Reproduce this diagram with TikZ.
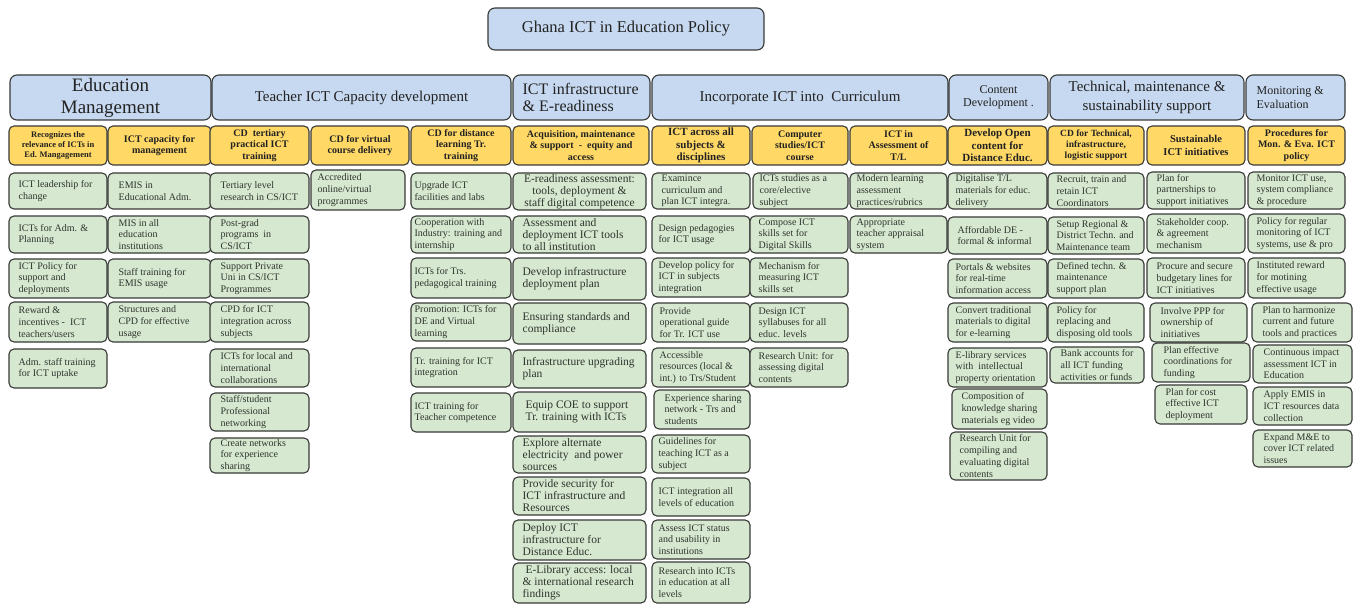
\documentclass[tikz,border=0pt]{standalone}
\usepackage{fontspec}
\setmainfont{Liberation Serif}
\definecolor{hdrblue}{RGB}{198,217,240}
\definecolor{hdryellow}{RGB}{255,216,102}
\definecolor{itemgreen}{RGB}{214,232,207}
\definecolor{edge}{RGB}{56,58,56}
\definecolor{ink}{RGB}{34,34,34}
\definecolor{itemink}{RGB}{46,52,46}

\tikzset{
  base/.style={draw=edge, line width=1.1pt, rounded corners=5pt, inner sep=0pt},
  bbox/.style={base, fill=hdrblue, rounded corners=7pt},
  bbox text/.style={text=ink, inner sep=0pt, font=\fontsize{15}{19}\selectfont},
  ybox/.style={base, fill=hdryellow},
  ybox text/.style={text=ink, inner sep=0pt, font=\bfseries\fontsize{10}{11.5}\selectfont},
  gbox/.style={base, fill=itemgreen},
  gbox text/.style={text=itemink, inner sep=0pt, xshift=8pt, font=\fontsize{10}{11.7}\selectfont},
  ibox/.style={gbox},
  ibox text/.style={gbox text, xshift=2pt, font=\fontsize{11.5}{12}\selectfont},
}

% box with left-aligned text: [text options]{style}{name}{x1}{y1}{x2}{y2}{text}
\newcommand\lbx[8][]{%
  \pgfmathsetmacro\bw{#6-#4}\pgfmathsetmacro\bh{#7-#5}%
  \node[#2, minimum width=\bw pt, minimum height=\bh pt] (#3) at ({(#4+#6)/2},{(#5+#7)/2}) {};%
  \node[anchor=west, align=left, #2 text, #1] (#3-t) at (#3.west) {#8};}
% box with centred text
\newcommand\cbx[8][]{%
  \pgfmathsetmacro\bw{#6-#4}\pgfmathsetmacro\bh{#7-#5}%
  \node[#2, minimum width=\bw pt, minimum height=\bh pt] (#3) at ({(#4+#6)/2},{(#5+#7)/2}) {};%
  \node[anchor=center, align=center, #2 text, #1] (#3-t) at (#3.center) {#8};}

\begin{document}
\begin{tikzpicture}[x=1pt, y=-1pt]
\useasboundingbox[fill=white] (0,0) rectangle (1362,604);

% title
\cbx[font=\fontsize{16.5}{19}\selectfont]{bbox}{title}{488}{8}{764}{50}{Ghana ICT in Education Policy}

% main areas
\cbx[font=\fontsize{19}{22}\selectfont]{bbox}{h1}{10}{75}{211}{120}{Education\\Management}
\cbx{bbox}{h2}{212}{75}{511}{120}{Teacher ICT Capacity development}
\lbx[xshift=10pt, font=\fontsize{16}{16.5}\selectfont]{bbox}{h3}{513}{75}{650}{120}{ICT infrastructure\\\& E-readiness}
\cbx{bbox}{h4}{652}{75}{948}{120}{Incorporate ICT into~ Curriculum}
\cbx[font=\fontsize{12}{13.5}\selectfont]{bbox}{h5}{949}{75}{1048}{120}{Content\\Development .}
\cbx{bbox}{h6}{1050}{75}{1244}{120}{Technical, maintenance \&\\sustainability support}
\lbx[xshift=11pt, font=\fontsize{12}{13.5}\selectfont]{bbox}{h7}{1246}{75}{1345}{120}{Monitoring \&\\Evaluation}

% strategy headings
\cbx[font=\bfseries\fontsize{8.5}{10.3}\selectfont]{ybox}{s1}{9}{126}{107}{165}{Recognizes the\\relevance of ICTs in\\Ed. Mangagement}
\cbx{ybox}{s2}{108}{126}{211}{165}{ICT capacity for\\management}
\cbx{ybox}{s3}{210}{126}{309}{165}{CD~ tertiary\\practical ICT\\training}
\cbx{ybox}{s4}{311}{126}{409}{165}{CD for virtual\\course delivery}
\cbx{ybox}{s5}{411}{126}{511}{165}{CD for distance\\learning Tr.\\training}
\cbx{ybox}{s6}{513}{126}{649}{165}{Acquisition, maintenance\\\& support~ -~ equity and\\access}
\cbx[font=\bfseries\fontsize{11}{12.3}\selectfont]{ybox}{s7}{652}{126}{750}{165}{ICT across all\\subjects \&\\disciplines}
\cbx{ybox}{s8}{752}{126}{848}{165}{Computer\\studies/ICT\\course}
\cbx{ybox}{s9}{850}{126}{947}{165}{ICT in\\Assessment of\\T/L}
\cbx[font=\bfseries\fontsize{11}{12.3}\selectfont]{ybox}{s10}{948}{126}{1047}{165}{Develop Open\\content for\\Distance Educ.}
\cbx[font=\bfseries\fontsize{9.5}{11}\selectfont]{ybox}{s11}{1048}{126}{1144}{165}{CD for Technical,\\infrastructure,\\logistic support}
\cbx[font=\bfseries\fontsize{10.5}{13}\selectfont]{ybox}{s12}{1147}{126}{1245}{165}{Sustainable\\ICT initiatives}
\cbx{ybox}{s13}{1248}{126}{1345}{165}{Procedures for\\Mon. \& Eva. ICT\\policy}

% Education Management
\lbx[xshift=2pt]{gbox}{a1}{9}{173}{107}{209}{ICT leadership for\\change}
\lbx[xshift=2pt]{gbox}{a2}{9}{216}{107}{253}{ICTs for Adm. \&\\Planning}
\lbx[xshift=2pt]{gbox}{a3}{9}{259}{107}{298}{ICT Policy for\\support and\\deployments}
\lbx[xshift=2pt]{gbox}{a4}{9}{302}{107}{342}{Reward \&\\incentives -~ ICT\\teachers/users}
\lbx[xshift=2pt]{gbox}{a5}{9}{349}{107}{388}{Adm. staff training\\for ICT uptake}

\lbx[xshift=3pt]{gbox}{b1}{108}{173}{211}{209}{EMIS in\\Educational Adm.}
\lbx[xshift=3pt]{gbox}{b2}{108}{216}{211}{253}{MIS in all\\education\\institutions}
\lbx[xshift=3pt]{gbox}{b3}{108}{259}{211}{298}{Staff training for\\EMIS usage}
\lbx[xshift=3pt]{gbox}{b4}{108}{302}{211}{342}{Structures and\\CPD for effective\\usage}

% Teacher ICT capacity development
\lbx[xshift=3pt]{gbox}{c1}{210}{173}{309}{209}{Tertiary level\\research in CS/ICT}
\lbx[xshift=3pt]{gbox}{c2}{210}{216}{309}{253}{Post-grad\\programs~ in\\CS/ICT}
\lbx[xshift=3pt]{gbox}{c3}{210}{259}{309}{298}{Support Private\\Uni in CS/ICT\\Programmes}
\lbx[xshift=3pt]{gbox}{c4}{210}{302}{309}{342}{CPD for ICT\\integration across\\subjects}
\lbx[xshift=3pt]{gbox}{c5}{210}{349}{309}{387}{ICTs for local and\\international\\collaborations}
\lbx[xshift=3pt]{gbox}{c6}{210}{393}{309}{431}{Staff/student\\Professional\\networking}
\lbx[xshift=3pt]{gbox}{c7}{210}{438}{309}{473}{Create networks\\for experience\\sharing}

\lbx[xshift=-1pt]{gbox}{d1}{311}{170}{405}{210}{Accredited\\online/virtual\\programmes}

\lbx[xshift=-4pt]{gbox}{e1}{411}{173}{511}{209}{Upgrade ICT\\facilities and labs}
\lbx[xshift=-4pt]{gbox}{e2}{411}{216}{511}{253}{Cooperation with\\Industry: training and\\internship}
\lbx[xshift=-4pt]{gbox}{e3}{411}{258}{511}{298}{ICTs for Trs.\\pedagogical training}
\lbx[xshift=-4pt]{gbox}{e4}{411}{303}{511}{341}{Promotion: ICTs for\\DE and Virtual\\learning}
\lbx[xshift=-4pt]{gbox}{e5}{411}{348}{511}{387}{Tr. training for ICT\\integration}
\lbx[xshift=-4pt]{gbox}{e6}{411}{393}{511}{432}{ICT training for\\Teacher competence}

% ICT infrastructure & E-readiness
\cbx[xshift=-10pt]{ibox}{f1}{513}{173}{646}{210}{E-readiness assessment:\\tools, deployment \&\\staff digital competence}
\lbx{ibox}{f2}{513}{216}{646}{253}{Assessment and\\deployment ICT tools\\to all institution}
\lbx{ibox}{f3}{513}{258}{646}{300}{Develop infrastructure\\deployment plan}
\lbx{ibox}{f4}{513}{303}{646}{344}{Ensuring standards and\\compliance}
\lbx{ibox}{f5}{513}{350}{646}{388}{Infrastructure upgrading\\plan}
\lbx[xshift=3pt]{ibox}{f6}{513}{392}{646}{432}{Equip COE to support\\Tr. training with ICTs}
\lbx{ibox}{f7}{513}{436}{646}{473}{Explore alternate\\electricity~ and power\\sources}
\lbx{ibox}{f8}{513}{477}{646}{515}{Provide security for\\ICT infrastructure and\\Resources}
\lbx{ibox}{f9}{513}{520}{646}{560}{Deploy ICT\\infrastructure for\\Distance Educ.}
\lbx{ibox}{f10}{513}{563}{646}{603}{~E-Library access: local\\\& international research\\findings}

% Incorporate ICT into curriculum
\lbx[xshift=2pt]{gbox}{g1}{652}{173}{750}{209}{Examince\\curriculum and\\plan ICT integra.}
\lbx[xshift=-1pt]{gbox}{g2}{652}{216}{750}{253}{Design pedagogies\\for ICT usage}
\lbx[xshift=-1pt]{gbox}{g3}{652}{258}{750}{297}{Develop policy for\\ICT in subjects\\integration}
\lbx[xshift=0pt]{gbox}{g4}{652}{303}{750}{342}{Provide\\operational guide\\for Tr. ICT use}
\lbx[xshift=0pt]{gbox}{g5}{652}{348}{750}{387}{Accessible\\resources (local \&\\int.) to Trs/Student}
\lbx[xshift=3pt]{gbox}{g6}{654}{390}{750}{429}{Experience sharing\\network - Trs and\\students}
\lbx[xshift=-1pt]{gbox}{g7}{652}{435}{750}{473}{Guidelines for\\teaching ICT as a\\subject}
\lbx[xshift=-1pt]{gbox}{g8}{652}{478}{750}{516}{ICT integration all\\levels of education}
\lbx[xshift=-1pt]{gbox}{g9}{652}{520}{750}{559}{Assess ICT status\\and usability in\\institutions}
\lbx[xshift=-1pt]{gbox}{g10}{652}{562}{750}{603}{Research into ICTs\\in education at all\\levels}

\lbx[xshift=-1pt]{gbox}{k1}{753}{173}{848}{209}{ICTs studies as a\\core/elective\\subject}
\lbx[xshift=1pt]{gbox}{k2}{750}{216}{848}{253}{Compose ICT\\skills set for\\Digital Skills}
\lbx[xshift=1pt]{gbox}{k3}{750}{258}{848}{297}{Mechanism for\\measuring ICT\\skills set}
\lbx[xshift=1pt]{gbox}{k4}{750}{303}{848}{342}{Design ICT\\syllabuses for all\\educ. levels}
\lbx[xshift=1pt]{gbox}{k5}{750}{348}{848}{387}{Research Unit: for\\assessing digital\\contents}

\lbx[xshift=-1pt]{gbox}{m1}{850}{173}{947}{209}{Modern learning\\assessment\\practices/rubrics}
\lbx[xshift=-1pt]{gbox}{m2}{850}{216}{947}{253}{Appropriate\\teacher appraisal\\system}

% Content development
\lbx{gbox}{n1}{948}{173}{1047}{209}{Digitalise T/L\\materials for educ.\\delivery}
\lbx[xshift=2pt]{gbox}{n2}{948}{217}{1047}{254}{Affordable DE -\\formal \& informal}
\lbx{gbox}{n3}{948}{259}{1047}{298}{Portals \& websites\\for real-time\\information access}
\lbx{gbox}{n4}{948}{303}{1047}{342}{Convert traditional\\materials to digital\\for e-learning}
\lbx{gbox}{n5}{948}{348}{1047}{387}{E-library services\\with~ intellectual\\property orientation}
\lbx[xshift=2pt]{gbox}{n6}{952}{389}{1047}{429}{Composition of\\knowledge sharing\\materials eg video}
\lbx[xshift=2pt]{gbox}{n7}{950}{432}{1047}{480}{Research Unit for\\compiling and\\evaluating digital\\contents}

% Technical, maintenance & sustainability support
\lbx[xshift=1pt]{gbox}{p1}{1048}{173}{1144}{209}{Recruit, train and\\retain ICT\\Coordinators}
\lbx[xshift=1pt]{gbox}{p2}{1048}{217}{1144}{254}{Setup Regional \&\\District Techn. and\\Maintenance team}
\lbx[xshift=1pt]{gbox}{p3}{1048}{259}{1144}{298}{Defined techn. \&\\maintenance\\support plan}
\lbx[xshift=1pt]{gbox}{p4}{1048}{303}{1144}{342}{Policy for\\replacing and\\disposing old tools}
\lbx[xshift=3pt]{gbox}{p5}{1050}{347}{1144}{383}{Bank accounts for\\all ICT funding\\activities or funds}

\lbx[xshift=2pt]{gbox}{q1}{1147}{172}{1245}{209}{Plan for\\partnerships to\\support initiatives}
\lbx[xshift=2pt]{gbox}{q2}{1147}{214}{1245}{253}{Stakeholder coop.\\\& agreement\\mechanism}
\lbx[xshift=2pt]{gbox}{q3}{1147}{258}{1245}{298}{Procure and secure\\budgetary lines for\\ICT initiatives}
\lbx[xshift=3pt]{gbox}{q4}{1150}{303}{1247}{342}{Involve PPP for\\ownership of\\initiatives}
\lbx[xshift=4pt]{gbox}{q5}{1152}{343}{1250}{382}{Plan effective\\coordinations for\\funding}
\lbx[xshift=3pt]{gbox}{q6}{1155}{385}{1247}{424}{Plan for cost\\effective ICT\\deployment}

% Monitoring & Evaluation
\lbx[xshift=1pt]{gbox}{r1}{1248}{172}{1345}{209}{Monitor ICT use,\\system compliance\\\& procedure}
\lbx[xshift=1pt]{gbox}{r2}{1248}{214}{1345}{253}{Policy for regular\\monitoring of ICT\\systems, use \& pro}
\lbx[xshift=1pt]{gbox}{r3}{1248}{258}{1345}{298}{Instituted reward\\for motining\\effective usage}
\lbx[xshift=3pt]{gbox}{r4}{1252}{303}{1352}{342}{Plan to harmonize\\current and future\\tools and practices}
\lbx[xshift=3pt]{gbox}{r5}{1253}{345}{1352}{383}{Continuous impact\\assessment ICT in\\Education}
\lbx[xshift=3pt]{gbox}{r6}{1253}{387}{1352}{425}{Apply EMIS in\\ICT resources data\\collection}
\lbx[xshift=3pt]{gbox}{r7}{1253}{430}{1352}{467}{Expand M\&E to\\cover ICT related\\issues}
\end{tikzpicture}
\end{document}
